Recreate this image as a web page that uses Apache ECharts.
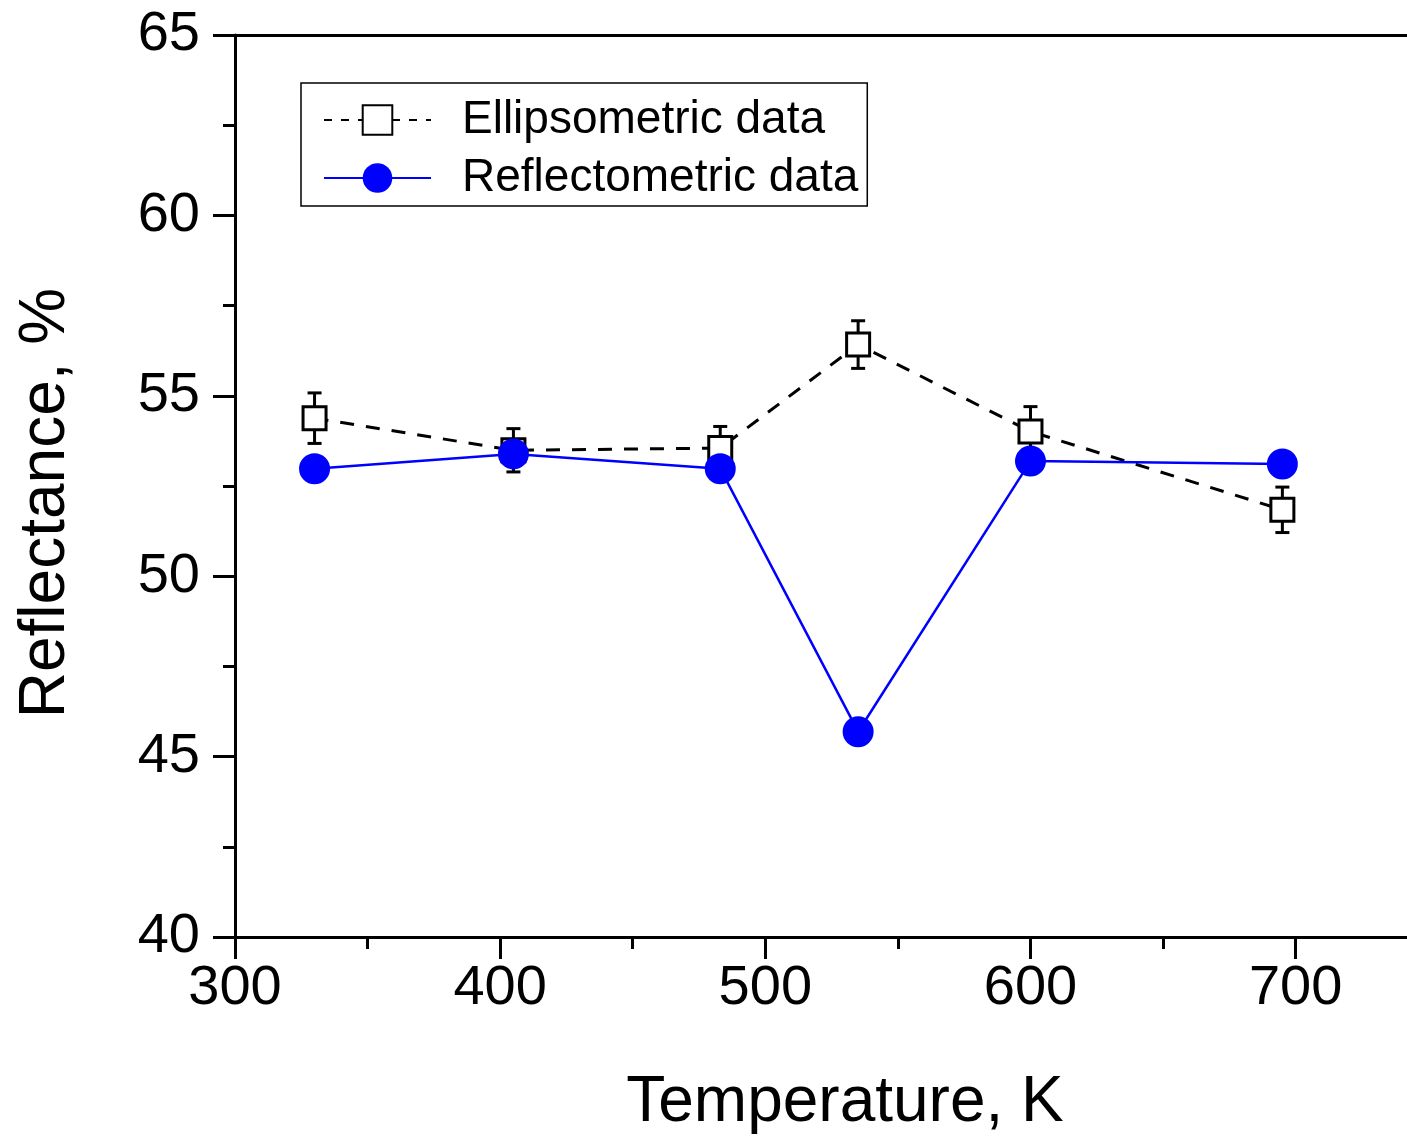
<!DOCTYPE html>
<html>
<head>
<meta charset="utf-8">
<script src="https://cdn.jsdelivr.net/npm/echarts@6/dist/echarts.min.js"></script>
<style>html,body{margin:0;padding:0;background:#fff;}#c{width:1407px;height:1137px;}</style>
</head>
<body>
<div id="c"></div>
<script>
const temperatures = [330, 405, 483, 535, 600, 695];
const ellipsometric = [54.38, 53.49, 53.55, 56.42, 54.01, 51.84];
const ellipsometricErr = [0.7, 0.6, 0.6, 0.66, 0.69, 0.63];
const reflectometric = [52.98, 53.39, 52.98, 45.69, 53.19, 53.11];
const xMajorTicks = [300, 400, 500, 600, 700];
const xMinorTicks = [350, 450, 550, 650];

const FONT = '"Liberation Sans", Arial, sans-serif';
const chart = echarts.init(document.getElementById('c'));

const errData = temperatures.map((t, i) => [t, ellipsometric[i] - ellipsometricErr[i], ellipsometric[i] + ellipsometricErr[i]]);

chart.setOption({
  animation: false,
  backgroundColor: '#fff',
  grid: { left: 235, top: 35, right: 0, bottom: 200, containLabel: false, outerBoundsMode: 'none' },
  legend: {
    left: 301, top: 83,
    orient: 'vertical',
    data: [
      { name: 'Ellipsometric data', lineStyle: { type: [8, 9] } },
      { name: 'Reflectometric data' }
    ],
    itemWidth: 107, itemHeight: 37, itemGap: 6,
    padding: [11, 9, 2, 22],
    borderColor: '#000', borderWidth: 1.5,
    textStyle: { fontFamily: FONT, fontSize: 46, color: '#000', lineHeight: 52, padding: [0, 0, 0, 26] }
  },
  xAxis: [
    {
      type: 'value', min: 300, max: 742, position: 'bottom',
      name: 'Temperature, K', nameLocation: 'middle', nameGap: 134,
      nameTextStyle: { fontFamily: FONT, fontSize: 64, color: '#000', padding: [0, 0, 0, 48] },
      axisLine: { show: true, onZero: false, lineStyle: { color: '#000', width: 3 } },
      axisTick: { show: true, inside: false, length: 22, customValues: xMajorTicks, lineStyle: { color: '#000', width: 3 } },
      axisLabel: { customValues: xMajorTicks, margin: 24, fontFamily: FONT, fontSize: 56, color: '#000' },
      splitLine: { show: false }
    },
    {
      type: 'value', min: 300, max: 742, position: 'bottom',
      axisLine: { show: false },
      axisTick: { show: true, inside: false, length: 12, customValues: xMinorTicks, lineStyle: { color: '#000', width: 3 } },
      axisLabel: { show: false },
      splitLine: { show: false }
    },
    {
      type: 'value', min: 300, max: 742, position: 'top',
      axisLine: { show: true, onZero: false, lineStyle: { color: '#000', width: 3 } },
      axisTick: { show: false }, axisLabel: { show: false }, splitLine: { show: false }
    }
  ],
  yAxis: {
    type: 'value', min: 40, max: 65, interval: 5,
    name: 'Reflectance, %', nameLocation: 'middle', nameGap: 157, nameRotate: 90,
    nameTextStyle: { fontFamily: FONT, fontSize: 64, color: '#000', padding: [0, 34, 0, 0] },
    axisLine: { show: true, onZero: false, lineStyle: { color: '#000', width: 3 } },
    axisTick: { show: true, inside: false, length: 22, lineStyle: { color: '#000', width: 3 } },
    minorTick: { show: true, splitNumber: 2, length: 12, lineStyle: { color: '#000', width: 3 } },
    axisLabel: { margin: 35, fontFamily: FONT, fontSize: 56, color: '#000' },
    splitLine: { show: false }, minorSplitLine: { show: false }
  },
  series: [
    {
      type: 'custom', name: 'err', xAxisIndex: 0, z: 1,
      data: errData,
      encode: { x: 0, y: [1, 2] },
      renderItem: function (params, api) {
        const x = api.value(0);
        const lo = api.coord([x, api.value(1)]);
        const hi = api.coord([x, api.value(2)]);
        const hw = 7;
        const st = { stroke: '#000', lineWidth: 3 };
        return {
          type: 'group',
          children: [
            { type: 'line', shape: { x1: lo[0], y1: lo[1], x2: hi[0], y2: hi[1] }, style: st },
            { type: 'line', shape: { x1: lo[0] - hw, y1: lo[1], x2: lo[0] + hw, y2: lo[1] }, style: st },
            { type: 'line', shape: { x1: hi[0] - hw, y1: hi[1], x2: hi[0] + hw, y2: hi[1] }, style: st }
          ]
        };
      }
    },
    {
      type: 'line', name: 'Ellipsometric data', xAxisIndex: 0, z: 2,
      data: temperatures.map((t, i) => [t, ellipsometric[i]]),
      symbol: 'rect', symbolSize: 23,
      itemStyle: { color: '#fff', borderColor: '#000', borderWidth: 3 },
      lineStyle: { color: '#000', width: 3, type: [14, 12] }
    },
    {
      type: 'line', name: 'Reflectometric data', xAxisIndex: 0, z: 3,
      data: temperatures.map((t, i) => [t, reflectometric[i]]),
      symbol: 'circle', symbolSize: 31,
      itemStyle: { color: '#0000ff', borderWidth: 0 },
      lineStyle: { color: '#0000ff', width: 2.5 }
    }
  ]
});
</script>
</body>
</html>
